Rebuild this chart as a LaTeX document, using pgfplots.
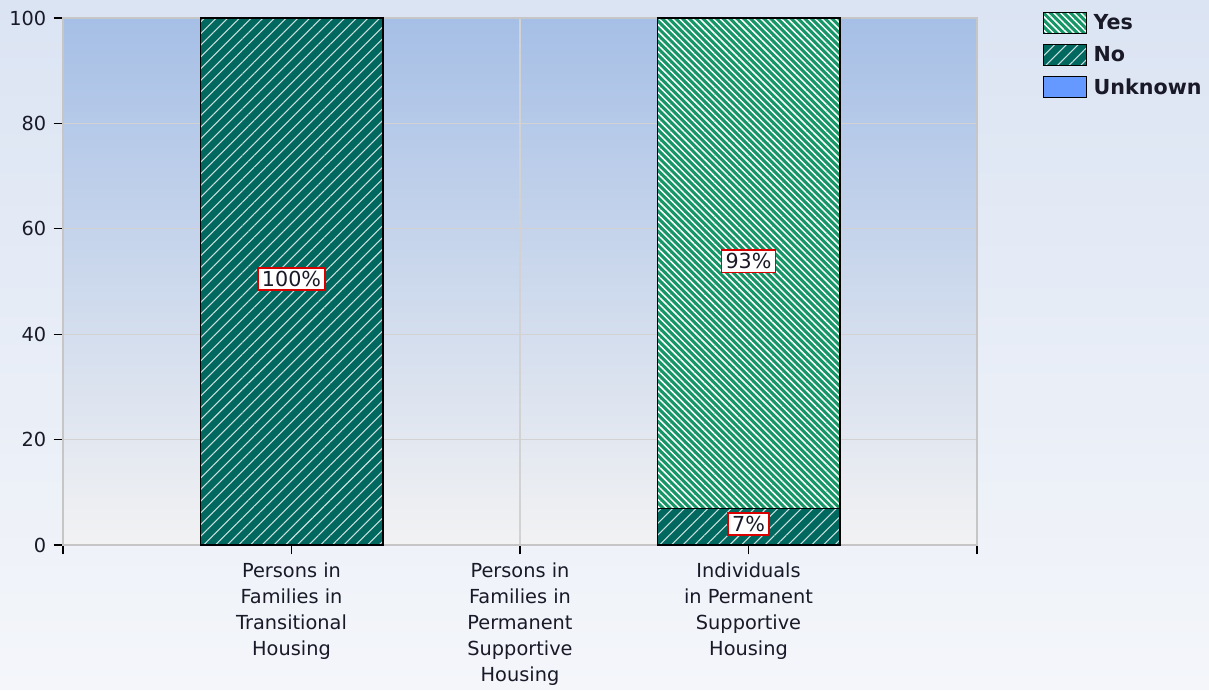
\documentclass[border=0pt]{standalone}
\usepackage{fontspec}
\setmainfont{DejaVu Sans}
\usepackage{pgfplots}
\pgfplotsset{compat=1.18}
\usetikzlibrary{patterns.meta}
\definecolor{noteal}{RGB}{0,104,94}
\definecolor{yesgreen}{RGB}{22,150,102}
\definecolor{unkblue}{RGB}{102,153,255}
\definecolor{bgtop}{RGB}{219,228,243}
\definecolor{bgbot}{RGB}{244,246,250}
\definecolor{pltop}{RGB}{166,191,230}
\definecolor{plbot}{RGB}{242,242,243}
\definecolor{txt}{RGB}{25,25,40}
\tikzset{
  yespat/.style={fill=yesgreen, postaction={pattern={Lines[angle=-45,distance=3.6pt,line width=1.1pt]}, pattern color=white}},
  nopat/.style={fill=noteal, postaction={pattern={Lines[angle=45,distance=6.2pt,line width=0.8pt]}, pattern color=white!80!noteal}},
  lbl/.style={fill=white, draw=red!85!black, line width=1.3pt, inner xsep=3pt, inner ysep=2.5pt, font=\fontsize{15.5}{18}\selectfont, text=txt}
}
\begin{document}
\begin{tikzpicture}
\shade[top color=bgtop, bottom color=bgbot] (0pt,0pt) rectangle (906.75pt,516.75pt);
\begin{axis}[
  at={(47.25pt,108pt)}, anchor=south west,
  scale only axis, width=685.5pt, height=395.25pt,
  ybar stacked, bar width=0.8,
  xmin=-1, xmax=3, ymin=0, ymax=100,
  xtick={-1,0,1,2,3},
  xticklabels={,{Persons in\\Families in\\Transitional\\Housing},{Persons in\\Families in\\Permanent\\Supportive\\Housing},{Individuals\\in Permanent\\Supportive\\Housing},},
  xticklabel style={align=center, font=\fontsize{14.5}{19.5}\selectfont, text=txt, anchor=north, yshift=-3pt},
  ytick={0,20,40,60,80,100},
  yticklabel style={font=\fontsize{14.5}{17}\selectfont, text=txt, xshift=-2pt},
  /pgf/number format/assume math mode=true,
  tick align=outside, tick pos=left, major tick length=7pt,
  tick style={black, line width=0.9pt},
  xmajorgrids, ymajorgrids,
  grid style={draw=gray!35, line width=0.9pt},
  axis line style={draw=gray!45, line width=0.9pt},
  axis background/.style={shade, top color=pltop, bottom color=plbot},
  legend style={at={(1.072,1.012)}, anchor=north west, draw=none, fill=none,
    font=\fontsize{15.5}{18}\selectfont\bfseries, text=txt, row sep=7pt, inner sep=0pt,
    nodes={inner xsep=5pt}},
  legend cell align=left,
  legend image code/.code={\draw[#1, draw=black, line width=0.9pt] (0pt,-8pt) rectangle (32pt,8pt);},
  after end axis/.append code={
    \node[lbl] at (axis cs:0,50.5) {100\%};
    \node[lbl] at (axis cs:2,53.8) {93\%};
    \node[lbl] at (axis cs:2,4) {7\%};
  },
]
\addlegendimage{yespat}
\addlegendentry{Yes}
\addlegendimage{nopat}
\addlegendentry{No}
\addlegendimage{fill=unkblue}
\addlegendentry{Unknown}
% No (bottom), Yes (top)
\addplot[nopat, draw=black, line width=0.9pt, forget plot] coordinates {(0,100) (1,0) (2,7)};
\addplot[yespat, draw=black, line width=0.9pt, forget plot] coordinates {(0,0) (1,0) (2,93)};
\end{axis}
\end{tikzpicture}
\end{document}
